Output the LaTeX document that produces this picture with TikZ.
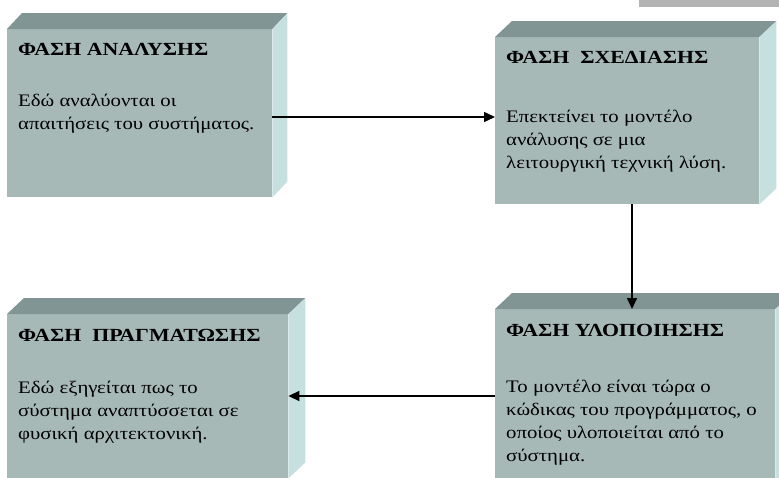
\documentclass[tikz,border=0pt]{standalone}
\usepackage{fontspec}
\setmainfont{Liberation Serif}[FakeStretch=1.18]
\usetikzlibrary{arrows.meta,calc}
\definecolor{frontc}{HTML}{A7B9B7}
\definecolor{topc}{HTML}{819594}
\definecolor{sidec}{HTML}{C6DFDF}
\definecolor{greyc}{HTML}{B3B3B3}
\tikzset{
  front/.style={fill=frontc, draw=none, inner sep=0pt, anchor=north west},
  topface/.style={fill=topc, draw=none},
  sideface/.style={fill=sidec, draw=none},
  head/.style={anchor=base west, inner sep=0pt, font=\fontsize{18.5}{22}\selectfont\bfseries},
  body/.style={anchor=north west, inner sep=0pt, align=left, font=\fontsize{17.6}{23}\selectfont},
  arr/.style={line width=1.5pt, -{Triangle[length=11pt,width=10pt]}}
}
\begin{document}
\begin{tikzpicture}[x=1pt,y=-1pt]
\useasboundingbox (0,0) rectangle (779,477);
\clip (0,0) rectangle (779,477);
% grey strip top right
\fill[greyc] (639,0) rectangle (779,7);
% box 1
\node[front, minimum width=265pt, minimum height=168pt] (b1) at (7,29) {};
\fill[topface] (b1.north west) -- ++(15,-16) -- ($(b1.north east)+(15,-16)$) -- (b1.north east) -- cycle;
\fill[sideface] (b1.north east) -- ++(15,-16) -- ($(b1.south east)+(15,-16)$) -- (b1.south east) -- cycle;
% box 2
\node[front, minimum width=264pt, minimum height=167pt] (b2) at (495,37) {};
\fill[topface] (b2.north west) -- ++(17,-16) -- ($(b2.north east)+(17,-16)$) -- (b2.north east) -- cycle;
\fill[sideface] (b2.north east) -- ++(17,-16) -- ($(b2.south east)+(17,-16)$) -- (b2.south east) -- cycle;
% box 3
\node[front, minimum width=280pt, minimum height=175pt] (b3) at (495,309) {};
\fill[topface] (b3.north west) -- ++(17,-16) -- ($(b3.north east)+(17,-16)$) -- (b3.north east) -- cycle;
\fill[sideface] (b3.north east) -- ++(17,-16) -- ($(b3.south east)+(17,-16)$) -- (b3.south east) -- cycle;
% box 4
\node[front, minimum width=281pt, minimum height=164pt] (b4) at (7,314) {};
\fill[topface] (b4.north west) -- ++(17,-16) -- ($(b4.north east)+(17,-16)$) -- (b4.north east) -- cycle;
\fill[sideface] (b4.north east) -- ++(17,-16) -- ($(b4.south east)+(17,-16)$) -- (b4.south east) -- cycle;
% texts
\node[head] (h1) at (18,55) {ΦΑΣΗ ΑΝΑΛΥΣΗΣ};
\node[body] (t1) at (18,90.5) {\strut Εδώ αναλύονται οι\\απαιτήσεις του συστήματος.};
\node[head] (h2) at (506,63) {ΦΑΣΗ\ \ ΣΧΕΔΙΑΣΗΣ};
\node[body] (t2) at (506,106) {\strut Επεκτείνει το μοντέλο\\ανάλυσης σε μια\\λειτουργική τεχνική λύση.};
\node[head] (h3) at (506,336) {ΦΑΣΗ ΥΛΟΠΟΙΗΣΗΣ};
\node[body] (t3) at (506,376) {\strut Το μοντέλο είναι τώρα ο\\κώδικας του προγράμματος, ο\\οποίος υλοποιείται από το\\σύστημα.};
\node[head] (h4) at (18,341) {ΦΑΣΗ\ \ ΠΡΑΓΜΑΤΩΣΗΣ};
\node[body] (t4) at (18,377) {\strut Εδώ εξηγείται πως το\\σύστημα αναπτύσσεται σε\\φυσική αρχιτεκτονική.};
% arrows
\coordinate (a1) at (0,117);
\coordinate (a2) at (632,0);
\coordinate (a3) at (0,396);
\draw[arr] (b1.east |- a1) -- (b2.west |- a1);
\draw[arr] (b2.south -| a2) -- (b3.north -| a2);
\draw[arr] (b3.west |- a3) -- (b4.east |- a3);
\end{tikzpicture}
\end{document}
